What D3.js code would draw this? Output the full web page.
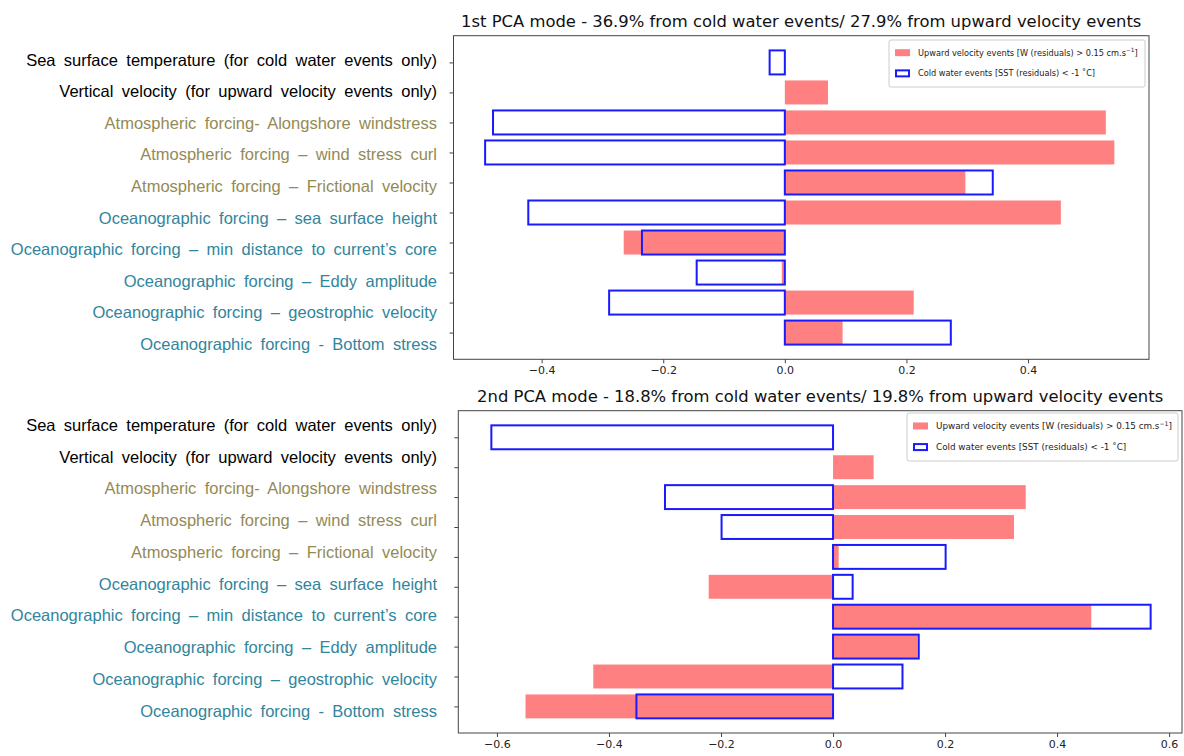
<!DOCTYPE html>
<html>
<head>
<meta charset="utf-8">
<script src="https://cdn.jsdelivr.net/npm/d3@7"></script>
<style>
  body { margin: 0; background: #fff; }
  svg { display: block; }
  .title { font-family: "DejaVu Sans", sans-serif; font-size: 16.4px; fill: #111; }
  .tick text { font-family: "DejaVu Sans", sans-serif; font-size: 11px; fill: #222; }
  .rowlabel { font-family: "Liberation Sans", Arial, sans-serif; font-size: 16.5px; word-spacing: 3.8px; }
  .legend text { font-family: "DejaVu Sans", sans-serif; fill: #222; }
</style>
</head>
<body>
<svg id="chart" width="1184" height="756"></svg>
<script>
// variable names, top row first
var categories = [
  "Sea surface temperature  (for cold water events only)",
  "Vertical velocity (for upward velocity events only)",
  "Atmospheric forcing- Alongshore windstress",
  "Atmospheric forcing \u2013 wind stress curl",
  "Atmospheric forcing \u2013 Frictional velocity",
  "Oceanographic forcing \u2013 sea surface height",
  "Oceanographic forcing \u2013 min distance to current\u2019s core",
  "Oceanographic forcing \u2013 Eddy amplitude",
  "Oceanographic forcing \u2013 geostrophic velocity",
  "Oceanographic forcing - Bottom stress"
];

// loadings (null = no bar)
var mode1Upward = [null, 0.071, 0.528, 0.542, 0.297, 0.454, -0.265, -0.005, 0.212, 0.095];
var mode1Cold   = [-0.025, null, -0.480, -0.493, 0.342, -0.422, -0.235, -0.145, -0.289, 0.273];
var mode2Upward = [null, 0.0725, 0.344, 0.323, 0.010, -0.222, 0.461, 0.151, -0.428, -0.549];
var mode2Cold   = [-0.610, null, -0.300, -0.199, 0.201, 0.035, 0.567, 0.153, 0.124, -0.351];

var mode1Ticks = [-0.4, -0.2, 0, 0.2, 0.4];
var mode2Ticks = [-0.6, -0.4, -0.2, 0, 0.2, 0.4, 0.6];

var mode1Title = "1st PCA mode - 36.9% from cold water events/ 27.9% from upward velocity events";
var mode2Title = "2nd PCA mode - 18.8% from cold water events/ 19.8% from upward velocity events";

var legendUpward = "Upward velocity events [W (residuals) > 0.15 cm.s";
var legendCold = "Cold water events [SST (residuals) < -1  \u02daC]";

var svg = d3.select("#chart");
svg.append("rect").attr("width", 1184).attr("height", 756).attr("fill", "#fff");

function labelColor(name) {
  if (name.indexOf("Atmospheric") === 0) return "#948a54";
  if (name.indexOf("Oceanographic") === 0) return "#31859c";
  return "#000";
}

function drawPanel(p) {
  var x = d3.scaleLinear().domain(p.xDomain).range([p.left, p.right]);
  var y = d3.scaleLinear().domain([-0.89, categories.length - 1 + 0.89]).range([p.top, p.bottom]);
  var barH = y(0.8) - y(0);

  var g = svg.append("g");

  // red filled bars (upward velocity events)
  g.selectAll("rect.up")
    .data(p.upward.map(function(v, i) { return {v: v, i: i}; }).filter(function(d) { return d.v !== null; }))
    .enter().append("rect")
      .attr("class", "up")
      .attr("x", function(d) { return x(Math.min(0, d.v)); })
      .attr("width", function(d) { return Math.abs(x(d.v) - x(0)); })
      .attr("y", function(d) { return y(d.i) - barH / 2; })
      .attr("height", barH)
      .attr("fill", "#ff8080");

  // blue outlined bars (cold water events)
  g.selectAll("rect.cold")
    .data(p.cold.map(function(v, i) { return {v: v, i: i}; }).filter(function(d) { return d.v !== null; }))
    .enter().append("rect")
      .attr("class", "cold")
      .attr("x", function(d) { return x(Math.min(0, d.v)); })
      .attr("width", function(d) { return Math.abs(x(d.v) - x(0)); })
      .attr("y", function(d) { return y(d.i) - barH / 2; })
      .attr("height", barH)
      .attr("fill", "none")
      .attr("stroke", "#1a1aff")
      .attr("stroke-width", 2);

  // frame
  g.append("rect")
    .attr("x", p.left).attr("y", p.top)
    .attr("width", p.right - p.left).attr("height", p.bottom - p.top)
    .attr("fill", "none").attr("stroke", "#444").attr("stroke-width", 1);

  // x axis
  var xa = g.append("g")
    .attr("transform", "translate(0," + p.bottom + ")")
    .call(d3.axisBottom(x).tickValues(p.ticks).tickFormat(d3.format(".1f")).tickSizeOuter(0).tickSize(4).tickPadding(3));
  xa.select(".domain").remove();
  xa.selectAll("line").attr("stroke", "#444");

  // y tick marks (labels are drawn separately on the left)
  var ya = g.append("g")
    .attr("transform", "translate(" + p.left + ",0)")
    .call(d3.axisLeft(y).tickValues(d3.range(categories.length)).tickFormat("").tickSize(4));
  ya.select(".domain").remove();
  ya.selectAll("line").attr("stroke", "#444");

  // title
  g.append("text").attr("class", "title")
    .attr("x", (p.left + p.right) / 2).attr("y", p.top - 9)
    .attr("text-anchor", "middle")
    .text(p.title);

  // row labels
  var ly = d3.scaleLinear().domain([0, categories.length - 1]).range(p.labelRange);
  g.selectAll("text.rowlabel")
    .data(categories)
    .enter().append("text")
      .attr("class", "rowlabel")
      .attr("x", 437)
      .attr("y", function(d, i) { return ly(i); })
      .attr("dy", "0.35em")
      .attr("text-anchor", "end")
      .attr("fill", labelColor)
      .text(function(d) { return d; });

  // legend
  var lg = g.append("g").attr("class", "legend")
    .attr("transform", "translate(" + p.legend.x + "," + p.legend.y + ")");
  lg.append("rect")
    .attr("width", p.legend.w).attr("height", p.legend.h)
    .attr("rx", 2).attr("fill", "#fff").attr("stroke", "#ccc");
  var fs = p.legend.fs;
  var row1 = p.legend.h * 0.27, row2 = p.legend.h * 0.71;
  lg.append("rect").attr("x", 6).attr("y", row1 - 3.5).attr("width", 15).attr("height", 7).attr("fill", "#ff8080");
  lg.append("rect").attr("x", 7).attr("y", row2 - 3).attr("width", 13).attr("height", 6)
    .attr("fill", "none").attr("stroke", "#1a1aff").attr("stroke-width", 2);
  var t1 = lg.append("text").attr("x", 29).attr("y", row1).attr("dy", "0.35em").style("font-size", fs + "px");
  t1.append("tspan").text(legendUpward);
  t1.append("tspan").attr("dy", -fs * 0.4).style("font-size", (fs * 0.7) + "px").text("\u22121");
  t1.append("tspan").attr("dy", fs * 0.4).text("]");
  lg.append("text").attr("x", 29).attr("y", row2).attr("dy", "0.35em").style("font-size", fs + "px").text(legendCold);
}

drawPanel({
  left: 453.5, right: 1149, top: 35.7, bottom: 359.3,
  xDomain: [-0.545, 0.599], ticks: mode1Ticks,
  upward: mode1Upward, cold: mode1Cold, title: mode1Title,
  labelRange: [60, 344],
  legend: {x: 889, y: 40, w: 256, h: 47, fs: 8.2}
});

drawPanel({
  left: 458.3, right: 1182, top: 410.7, bottom: 733,
  xDomain: [-0.669, 0.623], ticks: mode2Ticks,
  upward: mode2Upward, cold: mode2Cold, title: mode2Title,
  labelRange: [425, 711],
  legend: {x: 907, y: 413, w: 271, h: 48, fs: 8.8}
});
</script>
</body>
</html>
